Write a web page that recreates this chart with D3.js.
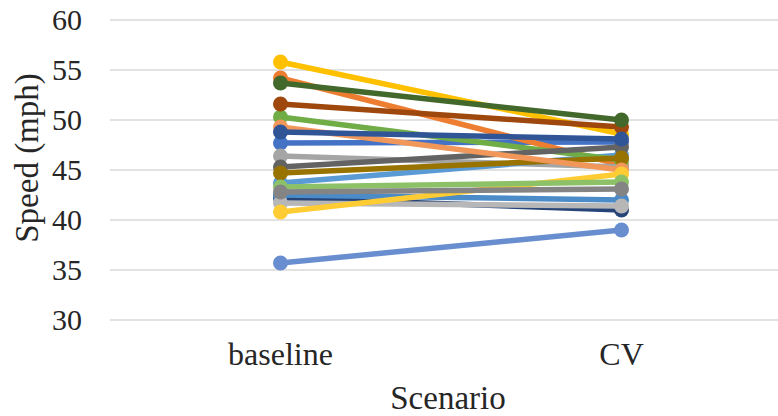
<!DOCTYPE html>
<html>
<head>
<meta charset="utf-8">
<script src="https://cdn.jsdelivr.net/npm/d3@7"></script>
<style>
  html, body { margin: 0; padding: 0; background: #fff; }
  svg { display: block; }
  svg text { font-family: "Liberation Serif", "DejaVu Serif", serif !important; fill: #262626; }
</style>
</head>
<body>
<svg id="chart" width="778" height="416"></svg>
<script>
// Scenario categories and y-axis ticks
const categories = ["baseline", "CV"];
const yTicks = [30, 35, 40, 45, 50, 55, 60];

// Average speed per corridor (mph): [baseline, CV]
const speedsBlue       = [47.7, 47.8];
const speedsOrange     = [54.2, 45.5];
const speedsGray       = [46.4, 45.3];
const speedsGold       = [55.8, 48.6];
const speedsSky        = [43.7, 46.5];
const speedsGreen      = [50.3, 46.0];
const speedsNavy       = [42.2, 41.0];
const speedsBrown      = [51.6, 49.3];
const speedsCharcoal   = [45.3, 47.3];
const speedsOlive      = [44.7, 46.2];
const speedsSteel      = [42.5, 42.0];
const speedsForest     = [53.7, 50.0];
const speedsPeriwinkle = [35.7, 39.0];
const speedsPeach      = [49.3, 45.0];
const speedsSilver     = [41.7, 41.4];
const speedsLemon      = [40.8, 44.6];
const speedsMint       = [43.3, 43.8];
const speedsCobalt     = [48.8, 48.1];
const speedsSlate      = [42.8, 43.1];

const series = [
  { values: speedsBlue,       color: "#4472C4" },
  { values: speedsOrange,     color: "#ED7D31" },
  { values: speedsGray,       color: "#A5A5A5" },
  { values: speedsGold,       color: "#FFC000" },
  { values: speedsSky,        color: "#5B9BD5" },
  { values: speedsGreen,      color: "#70AD47" },
  { values: speedsNavy,       color: "#264478" },
  { values: speedsBrown,      color: "#9E480E" },
  { values: speedsCharcoal,   color: "#636363" },
  { values: speedsOlive,      color: "#997300" },
  { values: speedsSteel,      color: "#4B8BC8" },
  { values: speedsForest,     color: "#43682B" },
  { values: speedsPeriwinkle, color: "#698ED0" },
  { values: speedsPeach,      color: "#F1975A" },
  { values: speedsSilver,     color: "#B7B7B7" },
  { values: speedsLemon,      color: "#FFCD33" },
  { values: speedsMint,       color: "#8CC168" },
  { values: speedsCobalt,     color: "#2F5597" },
  { values: speedsSlate,      color: "#848484" }
];

const FONT = '"Liberation Serif", "DejaVu Serif", serif';
const svg = d3.select("#chart");
const plot = { left: 110, right: 792, top: 20, bottom: 320 };

const x = d3.scaleBand().domain(categories).range([plot.left, plot.right]).padding(0);
const y = d3.scaleLinear().domain([30, 60]).range([plot.bottom, plot.top]);
const cx = c => x(c) + x.bandwidth() / 2;

// Horizontal gridlines
svg.append("g")
  .selectAll("line")
  .data(yTicks)
  .join("line")
  .attr("x1", plot.left)
  .attr("x2", plot.right)
  .attr("y1", d => y(d))
  .attr("y2", d => y(d))
  .attr("stroke", "#d9d9d9")
  .attr("stroke-width", 1.5);

// Y axis tick labels
const yAxis = d3.axisLeft(y).tickValues(yTicks).tickSize(0).tickPadding(28);
const yg = svg.append("g").attr("transform", `translate(${plot.left},0)`).call(yAxis)
  .attr("font-family", null).attr("font-size", null);
yg.select(".domain").remove();
yg.selectAll("text")
  .style("font-family", FONT)
  .style("font-size", "30px")
  .attr("fill", "#262626");

// X axis category labels
const xAxis = d3.axisBottom(x).tickSize(0).tickPadding(22);
const xg = svg.append("g").attr("transform", `translate(0,${plot.bottom})`).call(xAxis)
  .attr("font-family", null).attr("font-size", null);
xg.select(".domain").remove();
xg.selectAll("text")
  .style("font-family", FONT)
  .style("font-size", "32px")
  .attr("fill", "#262626");

// Lines and markers, one series at a time
const line = d3.line().x((d, i) => cx(categories[i])).y(d => y(d));
series.forEach(s => {
  const g = svg.append("g");
  g.append("path")
    .attr("d", line(s.values))
    .attr("fill", "none")
    .attr("stroke", s.color)
    .attr("stroke-width", 5.5)
    .attr("stroke-linecap", "round");
  g.selectAll("circle")
    .data(s.values)
    .join("circle")
    .attr("cx", (d, i) => cx(categories[i]))
    .attr("cy", d => y(d))
    .attr("r", 7.5)
    .attr("fill", s.color);
});

// Axis titles
svg.append("text")
  .attr("x", 448)
  .attr("y", 409)
  .attr("text-anchor", "middle")
  .style("font-family", FONT)
  .style("font-size", "33px")
  .text("Scenario");

svg.append("text")
  .attr("transform", "translate(38,158) rotate(-90)")
  .attr("text-anchor", "middle")
  .style("font-family", FONT)
  .style("font-size", "33px")
  .text("Speed (mph)");
</script>
</body>
</html>
